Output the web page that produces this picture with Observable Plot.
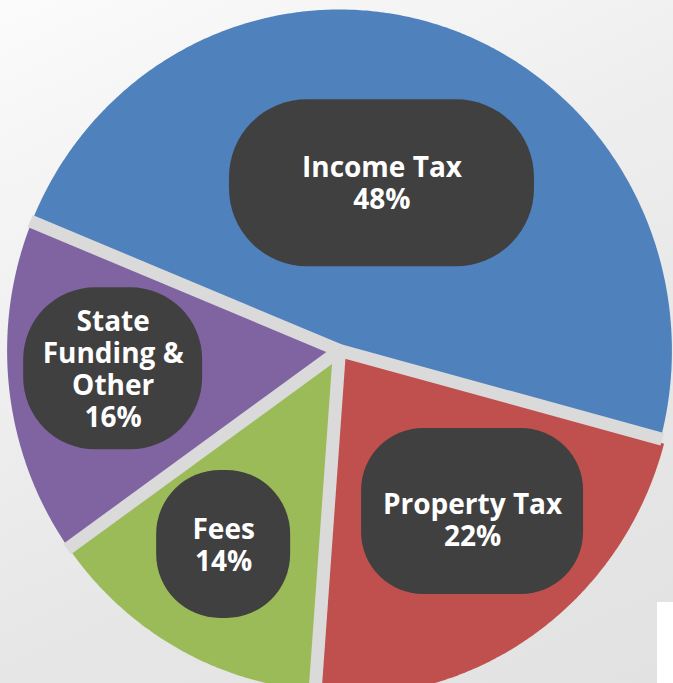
<!DOCTYPE html>
<html><head><meta charset="utf-8">
<script src="https://cdn.jsdelivr.net/npm/d3@7"></script>
<script src="https://cdn.jsdelivr.net/npm/@observablehq/plot@0.6"></script>
<style>
html,body{margin:0;padding:0;background:#ececec;overflow:hidden;}
#chart{position:relative;width:673px;height:683px;}
#chart svg{display:block}
#patch{position:absolute;left:657px;top:602px;width:16px;height:81px;background:#fff;}
</style></head><body><div id="chart"><div id="patch"></div></div>
<script>
// ---- data ----
const categories = ["Income Tax", "Property Tax", "Fees", "State Funding & Other"];
const shares = [48, 22, 14, 16];
const labelLines = ["Income Tax", "Property Tax", "Fees", "State\nFunding &\nOther"];
const colors = ["#4f81bd", "#c0504d", "#9bbb59", "#8064a2"];

// ---- layout / style ----
const W = 673, H = 683, CX = 339, CY = 350, RX = 332.4, RY = 341;
const startDeg = -67.8;
const gapWidth = 13, gapColor = "#dadada";
const explodePx = [0, 6, 0, 0];
const labelAngleOffset = [-4, -4.9, 2.1, 2.1];
const labelRadius = [0.507, 0.619, 0.667, 0.683];
const boxW = [305, 222, 134, 179], boxH = [167, 166, 148, 162], boxR = [78, 62, 64, 72];
const textDy = [0, 8, 0, 0];

const rad = d => d * Math.PI / 180;
const total = d3.sum(shares);
let acc = startDeg;
const slices = shares.map((v, i) => {
  const a0 = acc, a1 = acc + v / total * 360; acc = a1;
  return {name: categories[i], value: v, a0, a1, mid: (a0 + a1) / 2, i};
});
function arcPoints(a0, a1, r, withCenter, ox = 0, oy = 0) {
  const pts = withCenter ? [{x: ox, y: oy}] : [];
  const n = Math.ceil((a1 - a0) * 2);
  for (let k = 0; k <= n; k++) {
    const a = rad(a0 + (a1 - a0) * k / n);
    pts.push({x: ox + r * Math.sin(a), y: oy + r * Math.cos(a)});
  }
  return pts;
}

const marks = [];
// shadow
marks.push(Plot.line(arcPoints(0, 360, 1.015, false), {x: "x", y: "y", fill: "#7a7a7a", fillOpacity: 0.6, stroke: "none", curve: "linear-closed", ariaLabel: "shadow"}));
// slices
slices.forEach((s, i) => {
  const m = rad(s.mid);
  const ox = explodePx[i] / RX * Math.sin(m), oy = explodePx[i] / RY * Math.cos(m);
  marks.push(Plot.line(arcPoints(s.a0, s.a1, 1, true, ox, oy), {x: "x", y: "y", fill: colors[i], stroke: "none", curve: "linear-closed"}));
});
// gaps
const gaps = slices.map(s => ({x1: 0, y1: 0, x2: 1.005 * Math.sin(rad(s.a0)), y2: 1.005 * Math.cos(rad(s.a0))}));
marks.push(Plot.link(gaps, {x1: "x1", y1: "y1", x2: "x2", y2: "y2", stroke: gapColor, strokeWidth: gapWidth, strokeLinecap: "butt"}));
// label boxes + text
slices.forEach((s, i) => {
  const a = rad(s.mid + labelAngleOffset[i]);
  const r = labelRadius[i];
  const cx = r * Math.sin(a), cy = r * Math.cos(a);
  const hw = boxW[i] / 2 / RX, hh = boxH[i] / 2 / RY;
  marks.push(Plot.rect([{x1: cx - hw, x2: cx + hw, y1: cy - hh, y2: cy + hh}], {x1: "x1", x2: "x2", y1: "y1", y2: "y2", fill: "#404040", rx: boxR[i]}));
  marks.push(Plot.text([{x: cx, y: cy, t: `${labelLines[i]}\n${s.value}%`}], {x: "x", y: "y", text: "t", fill: "white", fontSize: 28, fontWeight: 700, fontFamily: "'Open Sans', sans-serif", lineHeight: 1.14, dy: textDy[i]}));
});

const svg = Plot.plot({
  width: W, height: H, margin: 0,
  x: {domain: [-CX / RX, (W - CX) / RX], range: [0, W], axis: null},
  y: {domain: [(CY - H) / RY, CY / RY], range: [H, 0], axis: null},
  style: {background: "linear-gradient(155deg, #fbfbfb 0%, #eeeeee 40%, #e6e6e6 70%, #e2e2e2 100%)", overflow: "hidden"},
  marks
});
const s = d3.select(svg);
const defs = s.insert("defs", ":first-child");
defs.append("filter").attr("id", "blurShadow").attr("x", "-20%").attr("y", "-20%").attr("width", "140%").attr("height", "140%")
  .append("feGaussianBlur").attr("stdDeviation", 9);
s.select('g[aria-label="shadow"]').attr("filter", "url(#blurShadow)");
document.getElementById("chart").insertBefore(svg, document.getElementById("patch"));
</script>
</body></html>
